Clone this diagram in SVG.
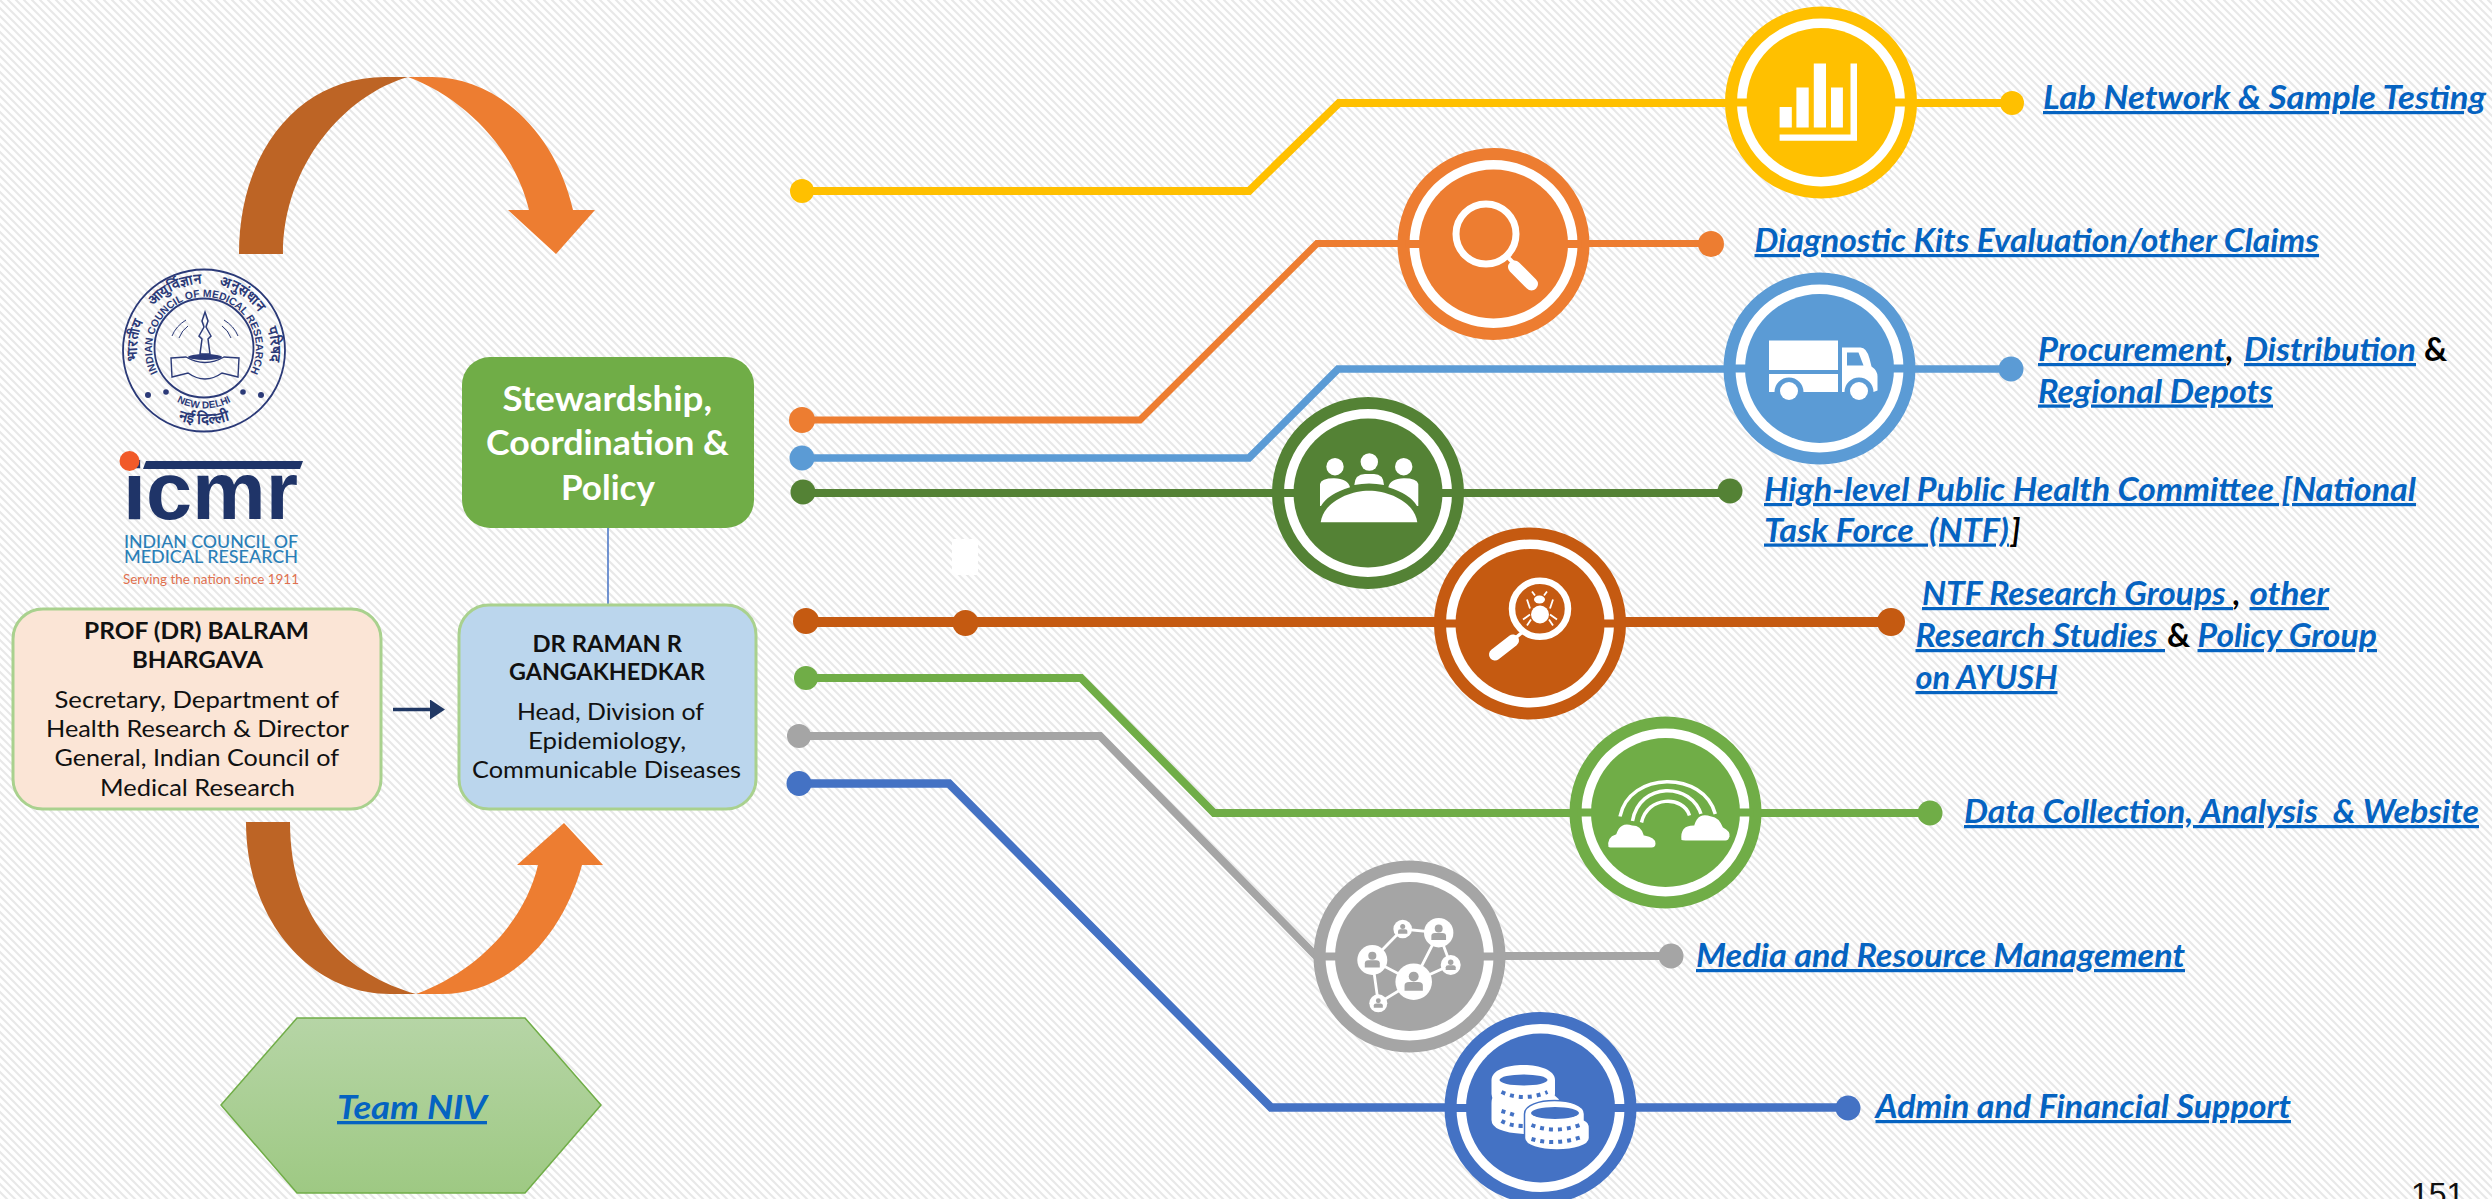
<svg xmlns="http://www.w3.org/2000/svg" xmlns:xlink="http://www.w3.org/1999/xlink" width="2492" height="1199" viewBox="0 0 2492 1199">
<style>
text{font-family:"Lato","Liberation Sans",sans-serif}
.l{font-size:32px;font-weight:700;font-style:italic;fill:#0563c1;text-decoration:underline}
.k{font-size:32px;font-weight:700;font-style:italic;fill:#000}
.h{font-size:35px;font-weight:700;fill:#fff}
.b{font-size:23.5px;font-weight:700;fill:#111}
.t{font-size:23.5px;fill:#111}
.c{fill:none;stroke-linejoin:miter}
.ring{fill:#fff;stroke:currentColor;stroke-width:12}
.disc,.gap{fill:currentColor}
.ic{fill:#fff}
.is{fill:none;stroke:#fff}
.seal{fill:none;stroke:#2b3a78}
.st{font-family:"Liberation Sans",sans-serif;fill:#2b3a78}
</style>
<defs>
<pattern id="bg" width="8" height="8" patternUnits="userSpaceOnUse">
<rect width="8" height="8" fill="#fff"/>
<path d="M-1-1L9 9M-1 7L1 9M7-1L9 1" stroke="#e8e8e8" stroke-width="2"/>
</pattern>
<linearGradient id="hex" x1="0" y1="0" x2="0" y2="1"><stop offset="0" stop-color="#b6d5a6"/><stop offset="1" stop-color="#9ec983"/></linearGradient>
<marker id="ah" markerUnits="userSpaceOnUse" markerWidth="16" markerHeight="20" refX="1" refY="10" orient="auto"><path d="M0 0L15 10L0 20Z" fill="#203864"/></marker>
<g id="base"><circle class="ring" r="90"/><rect class="gap" x="-88" y="-4" width="176" height="8"/><circle class="disc" r="74.5"/></g>
<g id="person"><circle r="1" fill="#fff"/><circle cy="-.28" r=".27" fill="#a5a5a5"/><path d="M-.5.5V.22Q-.5.02-.25.02H.25Q.5.02.5.22V.5Z" fill="#a5a5a5"/></g>
<path id="sealTop" d="M159 375A52 52 0 1 1 249 375"/>
<path id="sealBot" d="M178 402.300A58 58 0 0 0 230 402.300"/>
<path id="hinTop" d="M140 370A67 67 0 1 1 268 370"/>
<path id="hinBot" d="M166 414A74 74 0 0 0 242 414"/>
</defs>
<rect id="background" width="2492" height="1199" fill="url(#bg)"/>
<rect x="952" y="539" width="26" height="36" fill="#fff"/>

<g id="connectors">
<polyline class="c" stroke="#ffc000" stroke-width="8" points="802,191 1249,191 1339,103 2012,103"/>
<polyline class="c" stroke="#ed7d31" stroke-width="7" points="802,420 1140,420 1317,243.5 1711,243.5"/>
<polyline class="c" stroke="#5b9bd5" stroke-width="7.500" points="802,458 1249,458 1338,369 2011,369"/>
<polyline class="c" stroke="#548235" stroke-width="8" points="803,493 1730,493"/>
<polyline class="c" stroke="#c55a11" stroke-width="10" points="806,622 1891,622"/>
<polyline class="c" stroke="#70ad47" stroke-width="8" points="806,678 1081,678 1214,813 1930,813"/>
<polyline class="c" stroke="#a5a5a5" stroke-width="8" points="799,736 1100,736 1316,956 1671,956"/>
<polyline class="c" stroke="#4472c4" stroke-width="8.500" points="799,783.5 949,783.5 1271,1107.5 1848,1107.5"/>
<g>
<circle cx="802" cy="191" r="12" fill="#ffc000"/><circle cx="2012" cy="103" r="12" fill="#ffc000"/>
<circle cx="802" cy="420" r="13" fill="#ed7d31"/><circle cx="1711" cy="244" r="13" fill="#ed7d31"/>
<circle cx="802" cy="458" r="12.5" fill="#5b9bd5"/><circle cx="2011" cy="369" r="12.5" fill="#5b9bd5"/>
<circle cx="803" cy="492" r="12.5" fill="#548235"/><circle cx="1730" cy="491" r="12.5" fill="#548235"/>
<circle cx="806" cy="621" r="13" fill="#c55a11"/><circle cx="965.5" cy="623" r="13" fill="#c55a11"/><circle cx="1891" cy="622" r="14" fill="#c55a11"/>
<circle cx="806" cy="678" r="12" fill="#70ad47"/><circle cx="1930" cy="813" r="12.5" fill="#70ad47"/>
<circle cx="799" cy="736" r="12" fill="#a5a5a5"/><circle cx="1671" cy="956" r="12.5" fill="#a5a5a5"/>
<circle cx="799" cy="783.5" r="12.5" fill="#4472c4"/><circle cx="1848" cy="1108" r="12.5" fill="#4472c4"/>
</g>
<line x1="608" y1="528" x2="608" y2="605" stroke="#4472c4" stroke-width="1.5"/>
<line x1="393" y1="709.5" x2="431" y2="709.5" stroke="#203864" stroke-width="3.5" marker-end="url(#ah)"/>
</g>

<g id="cycle-top">
<path fill="#bd6425" d="M239 254C239 150 300 77 385 77L408 77C345 95 283 165 283 254Z"/>
<path fill="#ed7d31" d="M408 77L432 77C495 77 555 130 573 210L595 210L556 254L508 210L529 210C515 150 465 98 408 77Z"/>
</g>
<g id="cycle-bottom">
<path fill="#bd6425" d="M246 822C246 920 310 994 390 994L416 994C350 975 290 925 290 822Z"/>
<path fill="#ed7d31" d="M416 994L442 994C510 994 563 935 582 865L603 865L564 823L517 865L538 865C525 920 480 970 416 994Z"/>
</g>

<g id="logo-seal">
<circle class="seal" cx="204" cy="350.5" r="81" stroke-width="1.8"/>
<circle class="seal" cx="204" cy="348" r="49.5" stroke-width="1.8"/>
<text class="st" font-size="10.5" font-weight="700"><textPath href="#sealTop" startOffset="50%" text-anchor="middle" textLength="212" lengthAdjust="spacingAndGlyphs">INDIAN COUNCIL OF MEDICAL RESEARCH</textPath></text>
<text class="st" font-size="10" font-weight="700"><textPath href="#sealBot" startOffset="50%" text-anchor="middle">NEW DELHI</textPath></text>
<text class="st" font-size="14" font-weight="700" word-spacing="14"><textPath href="#hinTop" startOffset="50%" text-anchor="middle">भारतीय आयुर्विज्ञान अनुसंधान परिषद</textPath></text>
<text class="st" font-size="15" font-weight="700"><textPath href="#hinBot" startOffset="50%" text-anchor="middle">नई दिल्ली</textPath></text>
<g fill="#2b3a78"><circle cx="148" cy="395" r="3"/><circle cx="166" cy="392" r="2.8"/><circle cx="243" cy="392" r="2.8"/><circle cx="261" cy="395" r="3"/>
<ellipse cx="205" cy="357" rx="17" ry="3"/></g>
<path class="seal" stroke-width="1.500" d="M205 312L208 321L206 327L211 336L208 339L210 354H200L202 339L199 336L204 327L202 321Z"/>
<path class="seal" stroke-width="1.400" d="M171 358L186 357Q205 368 224 357L239 358L238 377L222 373Q205 385 188 373L172 377Z"/>
<path class="seal" stroke-width="1" d="M172 336Q176 326 186 320M179 338Q182 330 188 326M238 336Q234 326 224 320M231 338Q228 330 222 326"/>
</g>

<g id="logo-icmr">
<path d="M146 461H303L300 469H143Z" fill="#1f3468"/>
<text x="123" y="519" font-size="82" font-weight="700" fill="#1f3468" textLength="175" lengthAdjust="spacingAndGlyphs" style="font-family:'Liberation Sans',sans-serif">icmr</text>
<circle cx="129.500" cy="461" r="10" fill="#f15a29"/>
<text x="124" y="548" font-size="17.500" font-weight="500" fill="#2a7fb8" textLength="174" lengthAdjust="spacingAndGlyphs">INDIAN COUNCIL OF</text>
<text x="124" y="563" font-size="17.500" font-weight="500" fill="#2a7fb8" textLength="174" lengthAdjust="spacingAndGlyphs">MEDICAL RESEARCH</text>
<text x="123" y="584" font-size="14" fill="#e0714f" textLength="176" lengthAdjust="spacingAndGlyphs">Serving the nation since 1911</text>
</g>

<g id="node-stewardship">
<rect x="462" y="357" width="292" height="171" rx="28" fill="#70ad47"/>
<text class="h" x="502.500" y="411" textLength="209.500" lengthAdjust="spacingAndGlyphs">Stewardship,</text>
<text class="h" x="486" y="455" textLength="243" lengthAdjust="spacingAndGlyphs">Coordination &amp;</text>
<text class="h" x="561" y="500" textLength="94" lengthAdjust="spacingAndGlyphs">Policy</text>
</g>
<g id="node-bhargava">
<rect x="13" y="609" width="368" height="200" rx="30" fill="#fbe5d6" stroke="#a9d18e" stroke-width="3"/>
<text class="b" x="84" y="638.500" textLength="225" lengthAdjust="spacingAndGlyphs">PROF (DR) BALRAM</text>
<text class="b" x="132" y="667.500" textLength="131" lengthAdjust="spacingAndGlyphs">BHARGAVA</text>
<text class="t" x="54.500" y="708" textLength="284.500" lengthAdjust="spacingAndGlyphs">Secretary, Department of</text>
<text class="t" x="46" y="737" textLength="303" lengthAdjust="spacingAndGlyphs">Health Research &amp; Director</text>
<text class="t" x="54.500" y="766" textLength="284.500" lengthAdjust="spacingAndGlyphs">General, Indian Council of</text>
<text class="t" x="100" y="795.500" textLength="195" lengthAdjust="spacingAndGlyphs">Medical Research</text>
</g>
<g id="node-gangakhedkar">
<rect x="459" y="605" width="297" height="204" rx="30" fill="#bbd6ed" stroke="#a9d18e" stroke-width="3"/>
<text class="b" x="532.500" y="652" textLength="149.500" lengthAdjust="spacingAndGlyphs">DR RAMAN R</text>
<text class="b" x="509" y="680" textLength="196" lengthAdjust="spacingAndGlyphs">GANGAKHEDKAR</text>
<text class="t" x="517" y="720" textLength="187" lengthAdjust="spacingAndGlyphs">Head, Division of</text>
<text class="t" x="528" y="749" textLength="158" lengthAdjust="spacingAndGlyphs">Epidemiology,</text>
<text class="t" x="472" y="778" textLength="269" lengthAdjust="spacingAndGlyphs">Communicable Diseases</text>
</g>
<g id="node-team-niv">
<polygon points="297,1018 525,1018 601,1105 525,1193 297,1193 221,1105" fill="url(#hex)" stroke="#70ad47" stroke-width="1.500"/>
<text x="337" y="1119" font-size="33" font-weight="700" font-style="italic" fill="#0563c1" text-decoration="underline" textLength="150" lengthAdjust="spacingAndGlyphs">Team NIV</text>
</g>

<g id="node-lab" style="color:#ffc000">
<g transform="translate(1821,102.500)"><use href="#base"/>
<path class="ic" d="M-41.400 4.600H-29.200V25H-41.400ZM-24.600-15H-12.300V25H-24.600ZM-7.200-39H5V25H-7.200ZM10-15H21.900V25H10ZM29.500-39H36V38.300H-41.400V32H29.500Z"/></g>
<text class="l" x="2043" y="109" textLength="443" lengthAdjust="spacingAndGlyphs">Lab Network &amp; Sample Testing</text>
</g>
<g id="node-diagnostic" style="color:#ed7d31">
<g transform="translate(1493.500,244)"><use href="#base"/>
<circle class="is" cx="-7.500" cy="-10" r="30" stroke-width="7"/>
<path class="is" d="M15 14L20 19" stroke-width="4"/><path class="is" d="M21 23L38 40" stroke-width="13" stroke-linecap="round"/></g>
<text class="l" x="1754.500" y="252" textLength="564.500" lengthAdjust="spacingAndGlyphs">Diagnostic Kits Evaluation/other Claims</text>
</g>
<g id="node-procurement" style="color:#5b9bd5">
<g transform="translate(1819.500,368.500)"><use href="#base"/>
<path class="ic" d="M-50.500-28H18.500V1.500H-50.500ZM-50.500 5.500H18.500V23.500H-16A14.500 14.500 0 0 0-45 23.500H-50.500ZM22.500-21H41Q47-21 50-10L52-2Q58 2 58 8V22L54 23.500A14.500 14.500 0 0 0 25 23.500H22.500Z"/>
<circle class="ic" cx="-30.500" cy="22.500" r="9"/><circle class="ic" cx="39.500" cy="22.500" r="9"/>
<path d="M27.500-16H39L44-3H27.500Z" fill="#5b9bd5"/></g>
<text class="l" x="2038" y="361" textLength="188" lengthAdjust="spacingAndGlyphs">Procurement</text><text class="k" x="2226" y="361">,</text>
<text class="l" x="2244" y="361" textLength="172" lengthAdjust="spacingAndGlyphs">Distribution</text><text class="k" x="2424" y="361" style="font-style:normal">&amp;</text>
<text class="l" x="2038" y="402.500" textLength="235" lengthAdjust="spacingAndGlyphs">Regional Depots</text>
</g>
<g id="node-committee" style="color:#548235">
<g transform="translate(1368,493)"><use href="#base"/>
<circle class="ic" cx="-33" cy="-26.300" r="8.700"/><circle class="ic" cx="1.300" cy="-31" r="8.700"/><circle class="ic" cx="35.700" cy="-26.300" r="8.700"/>
<path class="ic" d="M-13.700-8Q-13-19-3-19H6Q15.500-19 16-8Q1-11-13.700-8Z"/>
<path class="ic" d="M-48 13V-9Q-47-14.700-34-14.700Q-20-14-18-5.700Q-40 1-47 13Z"/>
<path class="ic" d="M50.300 13V-9Q49-14.700 36-14.700Q22-14 20.300-5.700Q42 1 49 13Z"/>
<path class="ic" d="M-47.300 29.300C-45 10-20-2.300 1-2.300C22-2.300 47 10 49.300 29.300Z"/></g>
<text class="l" x="1764" y="501" textLength="652" lengthAdjust="spacingAndGlyphs">High-level Public Health Committee [National</text>
<text class="l" x="1764" y="541.500" textLength="245" lengthAdjust="spacingAndGlyphs" xml:space="preserve">Task Force  (NTF)</text><text class="k" x="2011" y="541.500">]</text>
</g>
<g id="node-research" style="color:#c55a11">
<g transform="translate(1530,623.500)"><use href="#base"/>
<circle class="is" cx="10" cy="-14.700" r="28" stroke-width="6.500"/>
<path class="is" d="M-8 9L-14 14" stroke-width="3.500"/><path class="is" d="M-17 17L-35 31" stroke-width="12" stroke-linecap="round"/>
<ellipse class="ic" cx="10" cy="-9" rx="9" ry="9"/><ellipse class="ic" cx="9.500" cy="-24" rx="5.500" ry="4"/>
<path class="is" stroke-width="1.800" d="M5-28L2-32M14-28L17-32M0-15L-3-24M20-15L23-24M0-9L-7-4M20-9L27-4M1-4L-3 2M19-4L23 2"/></g>
<text class="l" x="1922" y="605" textLength="311" lengthAdjust="spacingAndGlyphs" xml:space="preserve">NTF Research Groups </text><text class="k" x="2233" y="605">,</text>
<text class="l" x="2249.500" y="605" textLength="79.500" lengthAdjust="spacingAndGlyphs">other</text>
<text class="l" x="1915.500" y="647" textLength="249.500" lengthAdjust="spacingAndGlyphs" xml:space="preserve">Research Studies </text><text class="k" x="2167" y="647" style="font-style:normal">&amp;</text>
<text class="l" x="2197.500" y="647" textLength="179.500" lengthAdjust="spacingAndGlyphs">Policy Group</text>
<text class="l" x="1915.500" y="689" textLength="142" lengthAdjust="spacingAndGlyphs">on AYUSH</text>
</g>
<g id="node-data" style="color:#70ad47">
<g transform="translate(1665.500,812.500)"><use href="#base"/>
<path class="is" stroke-width="3.500" d="M-45.500 4C-36-42 38-42 49.800 1.500M-33 8.500C-26-31 26-31 36 3M-24 10C-18-17 18-17 24 3"/>
<path class="ic" stroke="#70ad47" stroke-width="2" d="M-58 35Q-60 24-50 21Q-46 8-33 12Q-24 12-21 22Q-9 24-9 31Q-9 36-14 36H-55Q-57 36-58 35Z"/>
<path class="ic" stroke="#70ad47" stroke-width="2" d="M15 28Q13 12 28 12Q32-2 46 3Q54 4 58 14Q66 18 65 24Q64 29 60 29H20Q16 29 15 28Z"/></g>
<text class="l" x="1964" y="823" textLength="515" lengthAdjust="spacingAndGlyphs" xml:space="preserve">Data Collection, Analysis  &amp; Website</text>
</g>
<g id="node-media" style="color:#a5a5a5">
<g transform="translate(1409.500,956.500)"><use href="#base"/>
<path class="is" stroke-width="2.800" d="M-37.200 3.500L-6.800-27.500L29.200-23.800L4.200 25.200L-37.200 3.500L-31.200 46.800L4.200 25.200L41.200 8.500L29.200-23.800"/>
<use href="#person" transform="translate(-6.800,-27.500) scale(9.300)"/><use href="#person" transform="translate(29.200,-23.800) scale(14.700)"/><use href="#person" transform="translate(-37.200,3.500) scale(15)"/><use href="#person" transform="translate(4.200,25.200) scale(18.300)"/><use href="#person" transform="translate(41.200,8.500) scale(10)"/><use href="#person" transform="translate(-31.200,46.800) scale(9)"/></g>
<text class="l" x="1696" y="967" textLength="489" lengthAdjust="spacingAndGlyphs">Media and Resource Management</text>
</g>
<g id="node-admin" style="color:#4472c4">
<g transform="translate(1540.500,1108)"><use href="#base"/>
<path class="ic" d="M-49-5Q-49-18-32-22L10-14Q20-12 20 0V18Q10 26-17 26Q-49 24-49 12Z"/>
<path class="ic" d="M-49-28C-49-48 14.500-48 14.500-28V-14Q14.500-3-17-3Q-49-3-49-14Z"/>
<ellipse cx="-17" cy="-28" rx="24" ry="5.500" fill="#4472c4"/>
<path fill="none" stroke="#4472c4" stroke-width="4" stroke-dasharray="4 5" d="M-39-16Q-17-6 7-16"/>
<path fill="none" stroke="#4472c4" stroke-width="4" stroke-dasharray="4 5" d="M-39 3L-26 7M-39 13Q-30 18-17 18"/>
<path class="ic" stroke="#4472c4" stroke-width="1.500" d="M-16 6C-16-12 44-12 44 6V12Q49 14 49 20V30C49 46-16 46-16 30V20Q-16 14-16 12Z"/>
<ellipse cx="14.500" cy="5" rx="24" ry="6" fill="#4472c4"/>
<path fill="none" stroke="#4472c4" stroke-width="4" stroke-dasharray="4 5" d="M-9 17Q14 26 39 17"/>
<path fill="none" stroke="#4472c4" stroke-width="4" stroke-dasharray="4 5" d="M-9 31Q14 38 41 29"/></g>
<text class="l" x="1875.500" y="1118" textLength="415.500" lengthAdjust="spacingAndGlyphs">Admin and Financial Support</text>
</g>
<text x="2411" y="1205" font-size="32" style="font-family:'Liberation Sans',sans-serif" fill="#111">151</text>
</svg>
